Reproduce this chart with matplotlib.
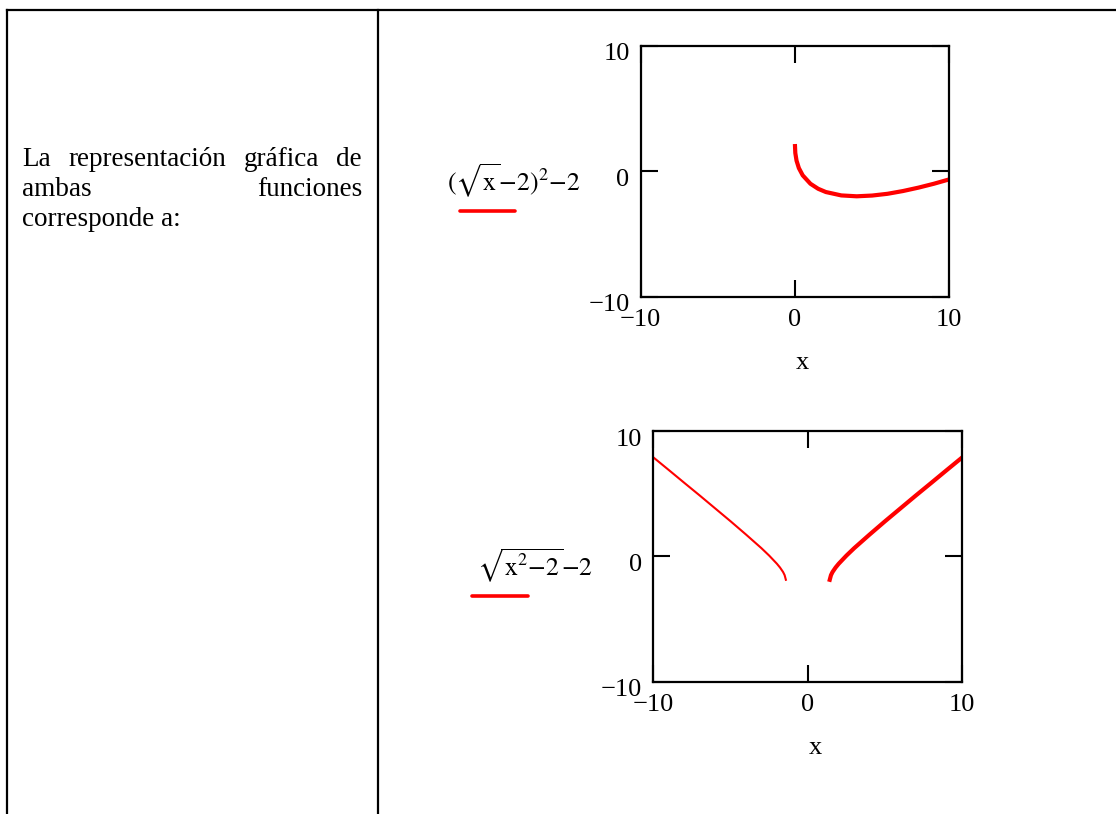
import matplotlib
matplotlib.use("Agg")
import matplotlib.pyplot as plt
from matplotlib.lines import Line2D
from matplotlib.transforms import ScaledTranslation

plt.rcParams['font.family'] = ['Liberation Serif', 'DejaVu Serif']
plt.rcParams['mathtext.fontset'] = 'stix'

# sampled points of (sqrt(x)-2)^2-2
x1 = [0, 0.02, 0.1, 0.25, 0.5, 1, 1.5, 2, 3, 4, 5, 6, 7, 8, 9, 10]
y1 = [2.0, 1.45, 0.84, 0.25, -0.33, -1.0, -1.40, -1.66, -1.93, -2.0,
      -1.94, -1.80, -1.58, -1.31, -1.0, -0.65]

# sampled points of sqrt(x^2-2)-2, both branches
x2_left = [-10, -9, -8, -7, -6, -5, -4, -3, -2.5, -2, -1.8, -1.6, -1.5, -1.42]
y2_left = [7.90, 6.89, 5.87, 4.86, 3.83, 2.80, 1.74, 0.65, 0.06, -0.59,
           -0.89, -1.25, -1.50, -1.87]
x2_right = [1.42, 1.5, 1.6, 1.8, 2, 2.5, 3, 4, 5, 6, 7, 8, 9, 10]
y2_right = [-1.87, -1.50, -1.25, -0.89, -0.59, 0.06, 0.65, 1.74, 2.80,
            3.83, 4.86, 5.87, 6.89, 7.90]

ticks = [-10, 0, 10]
labels = ["$(\\sqrt{\\mathrm{x}}{-}2)^{2}{-}2$",
          "$\\sqrt{\\mathrm{x}^{2}{-}2}{-}2$"]
words = [["La", "representación", "gráfica", "de"],
         ["ambas", "funciones"],
         ["corresponde", "a:"]]

W, H = 1116, 814
fig = plt.figure(figsize=(W / 100, H / 100), dpi=100)


def px_rect(left, top, right, bottom):
    return [left / W, 1 - bottom / H, (right - left) / W, (bottom - top) / H]


def setup_axes(ax, label):
    ax.set_xlim(-10, 10)
    ax.set_ylim(-10, 10)
    ax.set_xticks(ticks)
    ax.set_yticks(ticks)
    ax.tick_params(direction='in', length=12, width=1.5, labelsize=19,
                   top=True, right=True, color='black')
    ax.tick_params(axis='y', pad=8)
    ax.tick_params(axis='x', pad=9)
    for s in ax.spines.values():
        s.set_linewidth(1.6)
    shift = ScaledTranslation(0, -6 / 100, fig.dpi_scale_trans)
    for lab in ax.get_yticklabels():
        lab.set_transform(lab.get_transform() + shift)
    ax.set_xlabel("x", fontsize=19)
    ax.xaxis.set_label_coords(0.525, -0.264)
    ax.xaxis.label.set_va('center')
    ax.text(-0.196, 0.419, label, transform=ax.transAxes, fontsize=18.5,
            ha='right', va='baseline')
    ax.add_line(Line2D([-0.587, -0.407], [0.342, 0.342], transform=ax.transAxes,
                       color='red', lw=2.6, solid_capstyle='round', clip_on=False))


ax1 = fig.add_axes(px_rect(640.7, 45.7, 949.3, 296.7))
ax1.plot(x1, y1, color='red', lw=3)
setup_axes(ax1, labels[0])

ax2 = fig.add_axes(px_rect(653.3, 431, 962.3, 681.7))
ax2.plot(x2_left, y2_left, color='red', lw=1.5)
ax2.plot(x2_right, y2_right, color='red', lw=3)
setup_axes(ax2, labels[1])

# table borders
lw = 1.6
fig.add_artist(Line2D([7 / W, 1], [1 - 10 / H, 1 - 10 / H], color='black', lw=lw))
fig.add_artist(Line2D([7 / W, 7 / W], [0, 1 - 10 / H], color='black', lw=lw))
fig.add_artist(Line2D([378 / W, 378 / W], [0, 1 - 10 / H], color='black', lw=lw))

# justified paragraph in the left cell
renderer = fig.canvas.get_renderer()
x_left, x_right = 22, 362
baselines = [166, 196, 226]
for i, line in enumerate(words):
    y = 1 - baselines[i] / H
    items = [fig.text(0, y, w, fontsize=19.5, va='baseline') for w in line]
    widths = [t.get_window_extent(renderer).width for t in items]
    if i == len(words) - 1:
        gap = 7
    else:
        gap = (x_right - x_left - sum(widths)) / (len(line) - 1)
    pos = x_left
    for t, wd in zip(items, widths):
        t.set_x(pos / W)
        pos += wd + gap

fig.savefig("out.png", dpi=100)
